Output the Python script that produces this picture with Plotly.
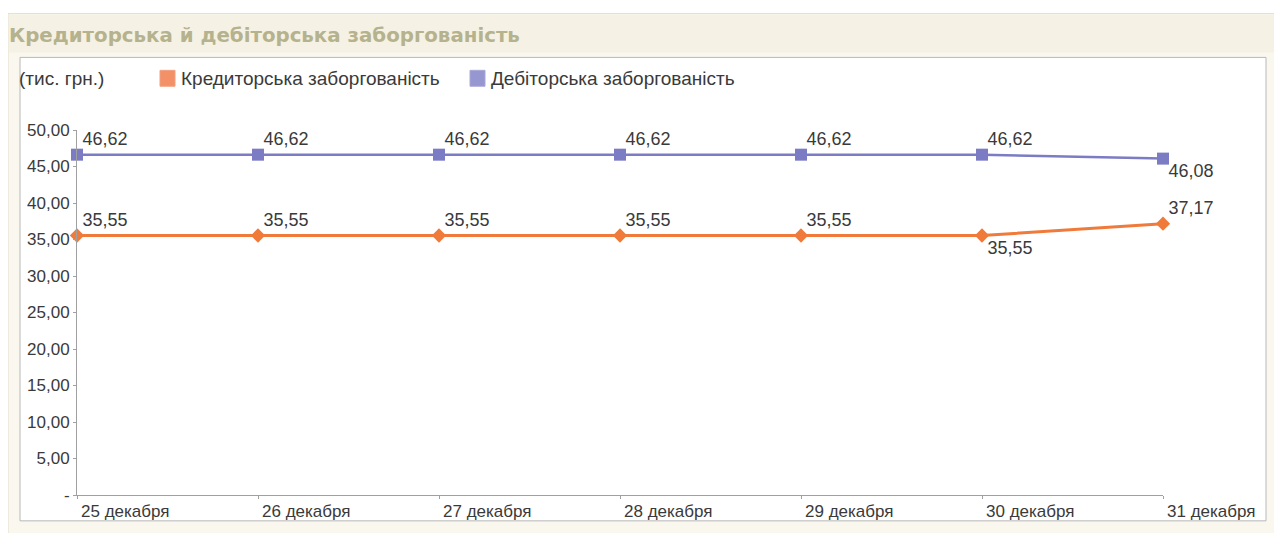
import plotly.graph_objects as go

# ---- data ----
dates = ["25 декабря", "26 декабря", "27 декабря", "28 декабря", "29 декабря", "30 декабря", "31 декабря"]
kredit = [35.55, 35.55, 35.55, 35.55, 35.55, 35.55, 37.17]
debit = [46.62, 46.62, 46.62, 46.62, 46.62, 46.62, 46.08]
series_names = ["Кредиторська заборгованість", "Дебіторська заборгованість"]
y_tick_vals = [0, 5, 10, 15, 20, 25, 30, 35, 40, 45, 50]
y_tick_text = ["-", "5,00", "10,00", "15,00", "20,00", "25,00", "30,00", "35,00", "40,00", "45,00", "50,00"]
title_text = "Кредиторська й дебіторська заборгованість"
unit_text = "(тис. грн.)"

# ---- layout geometry (screen pixels; page body has an 8px margin) ----
OFF = 8
W, H = 1282 - OFF, 533 - OFF
L, R, T, B = 77, 1163, 130, 497          # plot area in screen px
PW, PH = R - L, B - T


def px2x(px):
    return (px - L) / PW


def px2y(py):
    return (B - py) / PH


ORANGE = "#F07A3A"
PURPLE = "#7C7CC4"
FONT = "Liberation Sans, Arial, sans-serif"
TXT = "#3a3a3a"

kr_pos = ["top right"] * 5 + ["bottom right", "top right"]
db_pos = ["top right"] * 6 + ["bottom right"]

fig = go.Figure()
fig.add_trace(go.Scatter(
    x=dates, y=debit, mode="lines+markers", name=series_names[1],
    line=dict(color=PURPLE, width=2.5),
    marker=dict(symbol="square", size=12, color=PURPLE),
    showlegend=False, cliponaxis=False,
))
fig.add_trace(go.Scatter(
    x=dates, y=kredit, mode="lines+markers", name=series_names[0],
    line=dict(color=ORANGE, width=3),
    marker=dict(symbol="diamond", size=11, color=ORANGE),
    showlegend=False, cliponaxis=False,
))
# data labels (transparent markers only set the label offset)
fig.add_trace(go.Scatter(
    x=dates, y=debit, mode="markers+text", texttemplate="%{y:.2f}", textposition=db_pos,
    marker=dict(size=7, color="rgba(0,0,0,0)"),
    textfont=dict(family=FONT, size=18, color=TXT), showlegend=False, cliponaxis=False, hoverinfo="skip",
))
fig.add_trace(go.Scatter(
    x=dates, y=kredit, mode="markers+text", texttemplate="%{y:.2f}", textposition=kr_pos,
    marker=dict(size=7, color="rgba(0,0,0,0)"),
    textfont=dict(family=FONT, size=18, color=TXT), showlegend=False, cliponaxis=False, hoverinfo="skip",
))

shapes = [
    # outer cream panel
    dict(type="rect", xref="paper", yref="paper", x0=px2x(8), x1=px2x(1300), y0=px2y(545), y1=px2y(13),
         fillcolor="#FAF7EE", line=dict(color="#E2DDCB", width=1), layer="below"),
    # header band
    dict(type="rect", xref="paper", yref="paper", x0=px2x(9), x1=px2x(1300), y0=px2y(52), y1=px2y(14),
         fillcolor="#F5F1E4", line=dict(width=0), layer="below"),
    # inner white box
    dict(type="rect", xref="paper", yref="paper", x0=px2x(20), x1=px2x(1266), y0=px2y(523), y1=px2y(57),
         fillcolor="#FFFFFF", line=dict(color="#B8B8B8", width=1), layer="below"),
    # legend swatches
    dict(type="rect", xref="paper", yref="paper", x0=px2x(160), x1=px2x(175), y0=px2y(86), y1=px2y(70),
         fillcolor="#F39068", line=dict(color="#F0A080", width=1)),
    dict(type="rect", xref="paper", yref="paper", x0=px2x(470), x1=px2x(485), y0=px2y(86), y1=px2y(70),
         fillcolor="#9696D0", line=dict(color="#A8A8D8", width=1)),
]

annotations = [
    dict(text=title_text, xref="paper", yref="paper", x=px2x(7), y=px2y(35), xanchor="left", yanchor="middle",
         showarrow=False, font=dict(family="DejaVu Sans, Verdana, sans-serif", size=19.8, color="#B5B28E", weight="bold")),
    dict(text=unit_text, xref="paper", yref="paper", x=px2x(17), y=px2y(78), xanchor="left", yanchor="middle",
         showarrow=False, font=dict(family=FONT, size=19, color=TXT)),
    dict(text=series_names[0], xref="paper", yref="paper", x=px2x(179), y=px2y(78), xanchor="left", yanchor="middle",
         showarrow=False, font=dict(family=FONT, size=19, color=TXT)),
    dict(text=series_names[1], xref="paper", yref="paper", x=px2x(489), y=px2y(78), xanchor="left", yanchor="middle",
         showarrow=False, font=dict(family=FONT, size=19, color=TXT)),
]

fig.update_layout(
    width=W, height=H,
    margin=dict(l=L - OFF, r=W - (R - OFF), t=T - OFF, b=H - (B - OFF), pad=0),
    paper_bgcolor="#FFFFFF", plot_bgcolor="rgba(0,0,0,0)",
    separators=", ",
    shapes=shapes, annotations=annotations,
    showlegend=False,
    xaxis=dict(type="category", range=[0, 6], showgrid=False, zeroline=False,
               showline=True, linecolor="#A0A0A0", linewidth=1,
               ticks="outside", ticklen=3, tickcolor="#A0A0A0",
               ticklabelposition="outside right", ticklabelshift=3, ticklabelstandoff=1,
               tickfont=dict(family=FONT, size=17, color=TXT)),
    yaxis=dict(range=[0, 50], showgrid=False, zeroline=False,
               showline=True, linecolor="#A0A0A0", linewidth=1,
               ticks="outside", ticklen=3, tickcolor="#A0A0A0",
               tickvals=y_tick_vals, ticktext=y_tick_text,
               tickfont=dict(family=FONT, size=17, color=TXT)),
)

fig.write_html("out.html")
